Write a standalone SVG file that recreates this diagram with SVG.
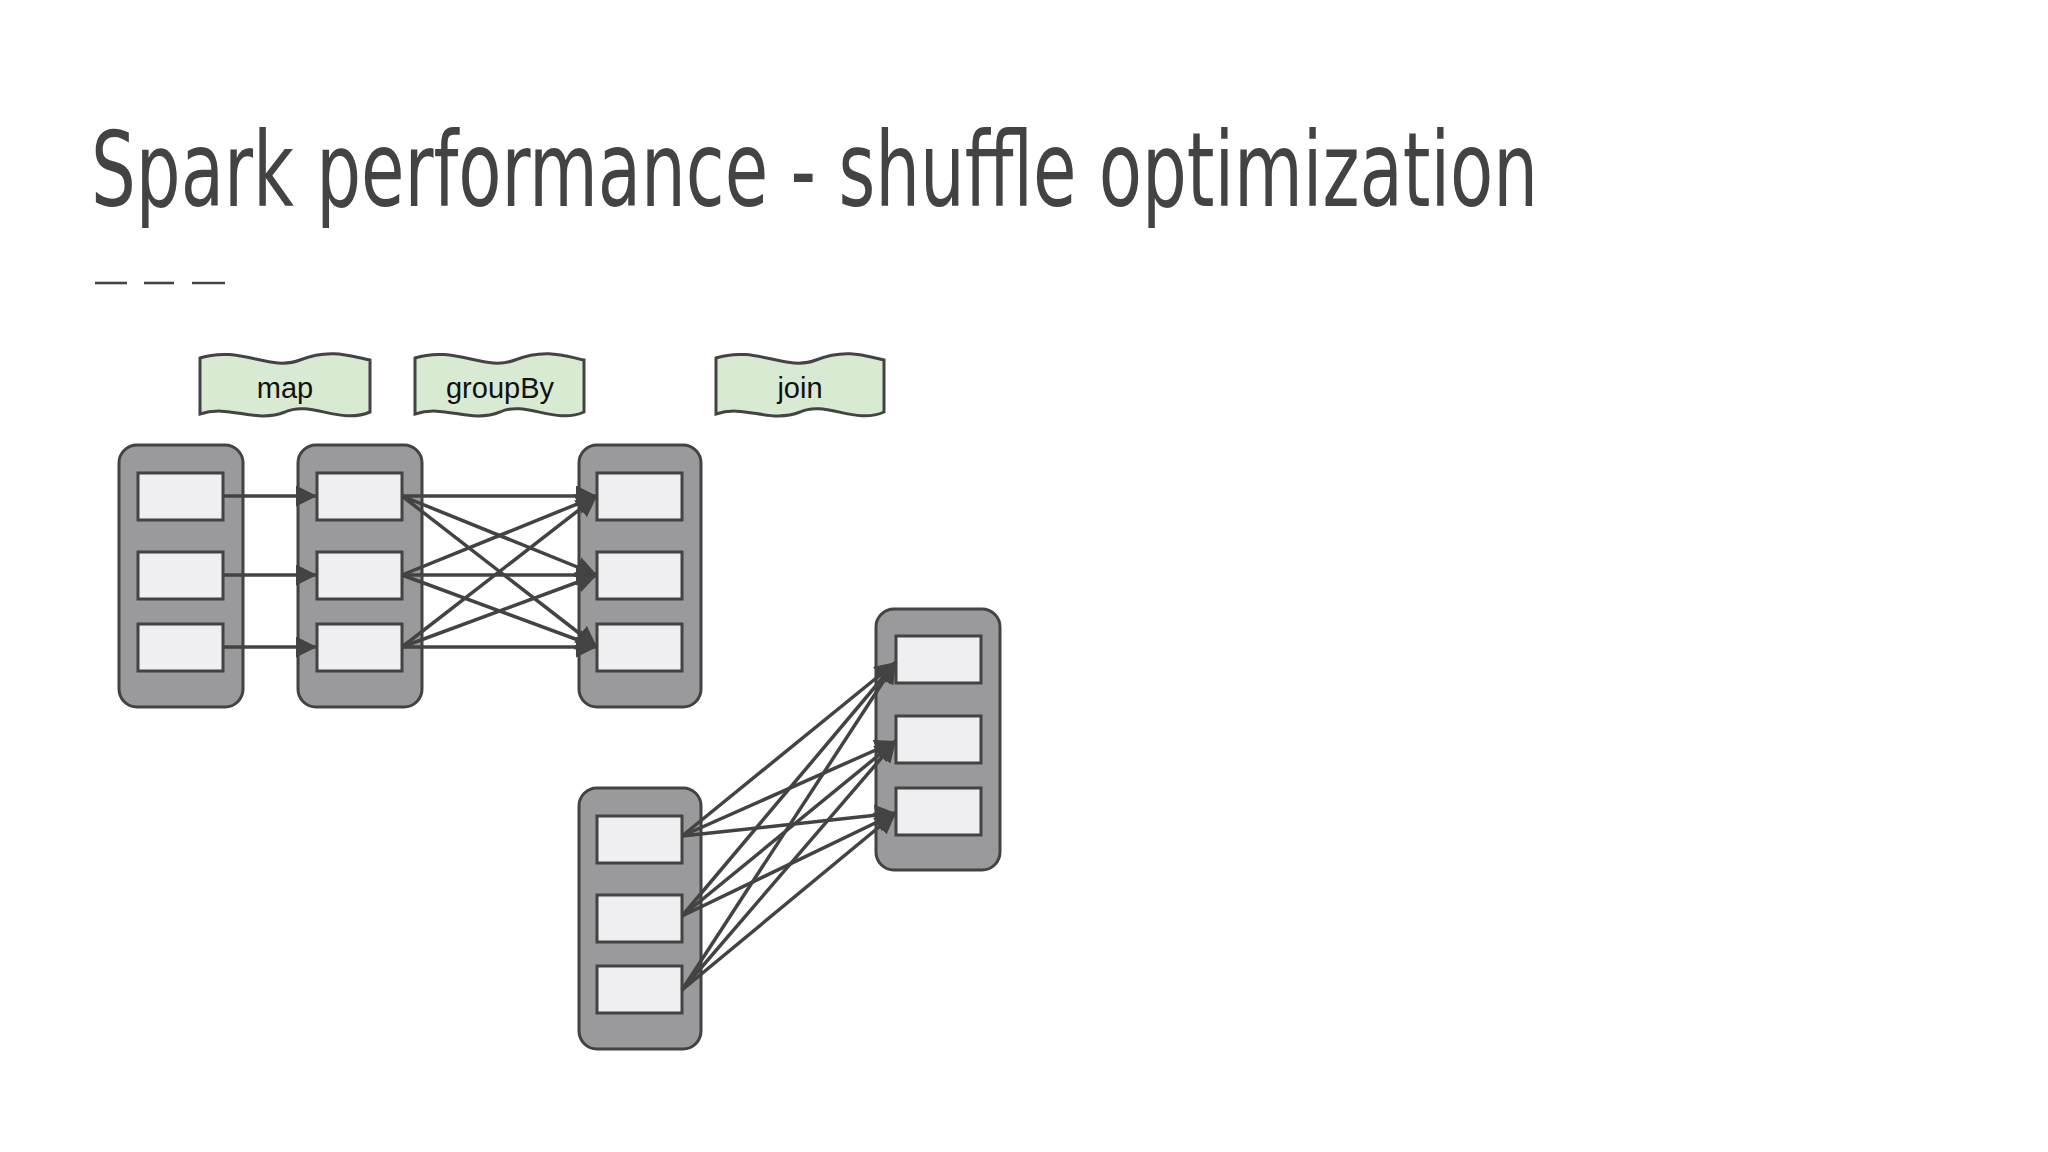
<svg xmlns="http://www.w3.org/2000/svg" width="2048" height="1152" viewBox="0 0 2048 1152">
<style>
.c{fill:#9a999b;stroke:#434343;stroke-width:3}
.b{fill:#efeef0;stroke:#434343;stroke-width:3}
.l{fill:#d9ead3;stroke:#434343;stroke-width:3}
.lt{font-family:"Liberation Sans",Arial,sans-serif;font-size:29px;fill:#111;text-anchor:middle}
.e{stroke:#434343;stroke-width:3.5;fill:none;marker-end:url(#a)}
</style>
<defs><marker id="a" viewBox="0 0 10 10" refX="10" refY="5" markerWidth="6" markerHeight="6" orient="auto" markerUnits="strokeWidth"><path d="M0,0L10,5L0,10z" fill="#434343"/></marker></defs>
<rect width="2048" height="1152" fill="#fff"/>
<text x="91" y="206" font-family="DejaVu Sans Condensed,'DejaVu Sans',sans-serif" font-stretch="condensed" font-size="104" fill="#434343" textLength="1447" lengthAdjust="spacingAndGlyphs">Spark performance - shuffle optimization</text>
<g stroke="#434343" stroke-width="2.6"><line x1="95" y1="283" x2="127" y2="283"/><line x1="144" y1="283" x2="174" y2="283"/><line x1="192" y1="283" x2="225" y2="283"/></g>
<g id="lmap"><path class="l" d="M200,358 C240,345 270,372 300,360 C330,348 350,356 370,360 L370,412 C340,425 310,400 285,412 C255,424 230,404 200,414 Z"/><text class="lt" x="285" y="398">map</text></g>
<g id="lgroupby"><path class="l" d="M415,358 C455,345 485,372 515,360 C545,348 565,356 584,360 L584,412 C555,425 525,400 500,412 C470,424 445,404 415,414 Z"/><text class="lt" x="500" y="398">groupBy</text></g>
<g id="ljoin"><path class="l" d="M716,358 C756,345 786,372 816,360 C846,348 866,356 884,360 L884,412 C855,425 825,400 800,412 C770,424 745,404 716,414 Z"/><text class="lt" x="800" y="398">join</text></g>
<g id="A"><rect class="c" x="119" y="445" width="124" height="262" rx="18"/><rect class="b" x="138" y="473" width="85" height="47"/><rect class="b" x="138" y="552" width="85" height="47"/><rect class="b" x="138" y="624" width="85" height="47"/></g>
<g id="B"><rect class="c" x="298" y="445" width="124" height="262" rx="18"/><rect class="b" x="317" y="473" width="85" height="47"/><rect class="b" x="317" y="552" width="85" height="47"/><rect class="b" x="317" y="624" width="85" height="47"/></g>
<g id="C"><rect class="c" x="579" y="445" width="122" height="262" rx="18"/><rect class="b" x="597" y="473" width="85" height="47"/><rect class="b" x="597" y="552" width="85" height="47"/><rect class="b" x="597" y="624" width="85" height="47"/></g>
<g id="D"><rect class="c" x="579" y="788" width="122" height="261" rx="18"/><rect class="b" x="597" y="816" width="85" height="47"/><rect class="b" x="597" y="895" width="85" height="47"/><rect class="b" x="597" y="966" width="85" height="47"/></g>
<g id="E"><rect class="c" x="876" y="609" width="124" height="261" rx="18"/><rect class="b" x="896" y="636" width="85" height="47"/><rect class="b" x="896" y="716" width="85" height="47"/><rect class="b" x="896" y="788" width="85" height="47"/></g>
<g id="connectors">
<line class="e" x1="223" y1="496" x2="317" y2="496"/><line class="e" x1="223" y1="575" x2="317" y2="575"/><line class="e" x1="223" y1="647" x2="317" y2="647"/>
<line class="e" x1="402" y1="496" x2="597" y2="496"/><line class="e" x1="402" y1="496" x2="597" y2="575"/><line class="e" x1="402" y1="496" x2="597" y2="647"/>
<line class="e" x1="402" y1="575" x2="597" y2="496"/><line class="e" x1="402" y1="575" x2="597" y2="575"/><line class="e" x1="402" y1="575" x2="597" y2="647"/>
<line class="e" x1="402" y1="647" x2="597" y2="496"/><line class="e" x1="402" y1="647" x2="597" y2="575"/><line class="e" x1="402" y1="647" x2="597" y2="647"/>
<line class="e" x1="682" y1="836" x2="896" y2="662"/><line class="e" x1="682" y1="836" x2="896" y2="741"/><line class="e" x1="682" y1="836" x2="896" y2="813"/>
<line class="e" x1="682" y1="916" x2="896" y2="662"/><line class="e" x1="682" y1="916" x2="896" y2="741"/><line class="e" x1="682" y1="916" x2="896" y2="813"/>
<line class="e" x1="682" y1="990" x2="896" y2="662"/><line class="e" x1="682" y1="990" x2="896" y2="741"/><line class="e" x1="682" y1="990" x2="896" y2="813"/>
</g>
</svg>
